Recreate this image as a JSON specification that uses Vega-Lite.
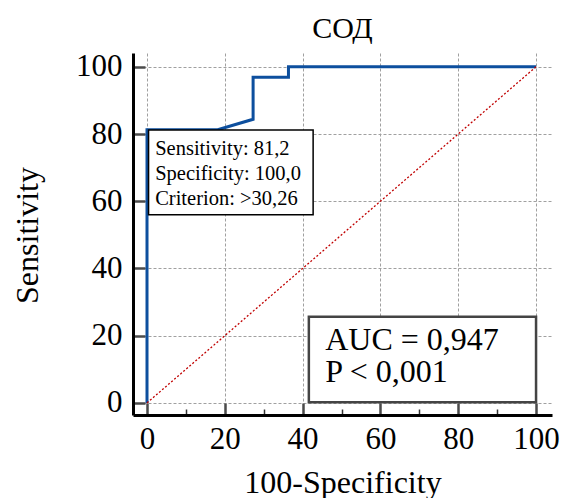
{
  "$schema": "https://vega.github.io/schema/vega-lite/v6.json",
  "autosize": "none",
  "width": 419,
  "height": 362,
  "padding": {"left": 133, "top": 53, "right": 11, "bottom": 83},
  "background": "white",
  "title": {"text": "СОД", "font": "Liberation Serif", "fontSize": 30, "fontWeight": "normal", "color": "black", "baseline": "alphabetic", "offset": 15, "dy": 32, "anchor": "middle", "frame": "group"},
  "config": {"view": {"stroke": null}},
  "layer": [
    {
      "data": {"values": [
        {"i": 0, "fpr": 0, "tpr": 0},
        {"i": 1, "fpr": 0, "tpr": 81.25},
        {"i": 2, "fpr": 18.18, "tpr": 81.25},
        {"i": 3, "fpr": 27.27, "tpr": 84.375},
        {"i": 4, "fpr": 27.27, "tpr": 96.875},
        {"i": 5, "fpr": 36.36, "tpr": 96.875},
        {"i": 6, "fpr": 36.36, "tpr": 100},
        {"i": 7, "fpr": 100, "tpr": 100}
      ]},
      "mark": {"type": "line", "color": "#0d4f9e", "strokeWidth": 3, "clip": false},
      "encoding": {
        "x": {"field": "fpr", "type": "quantitative",
          "scale": {"domain": [-3.6, 104.1], "nice": false, "zero": false},
          "axis": {
            "title": "100-Specificity",
            "values": [0,5,10,15,20,25,30,35,40,45,50,55,60,65,70,75,80,85,90,95,100],
            "labelExpr": "datum.value % 20 === 0 ? datum.label : ''",
            "labelOverlap": false, "labelFlush": false,
            "labelFont": "Liberation Serif", "labelFontSize": 31, "labelColor": "black",
            "labelBaseline": "alphabetic", "labelPadding": 45,
            "domainColor": "black", "domainWidth": 3,
            "tickSize": {"condition": {"test": "datum.value % 20 === 0", "value": -12}, "value": -6},
            "tickWidth": {"condition": {"test": "datum.value % 20 === 0", "value": 2.5}, "value": 1.5},
            "tickColor": {"condition": {"test": "datum.value % 20 === 0", "value": "#4a4a4a"}, "value": "#333333"},
            "grid": true,
            "gridOpacity": {"condition": {"test": "datum.value % 20 === 0", "value": 1}, "value": 0},
            "gridColor": "#a0a0a0", "gridDash": [3, 2], "gridWidth": 1,
            "titleFont": "Liberation Serif", "titleFontSize": 32, "titleFontWeight": "normal", "titleColor": "black",
            "titleBaseline": "alphabetic", "titleY": 77
          }},
        "y": {"field": "tpr", "type": "quantitative",
          "scale": {"domain": [-3.6, 104.1], "nice": false, "zero": false},
          "axis": {
            "title": "Sensitivity",
            "values": [0,5,10,15,20,25,30,35,40,45,50,55,60,65,70,75,80,85,90,95,100],
            "labelExpr": "datum.value % 20 === 0 ? datum.label : ''",
            "labelOverlap": false, "labelFlush": false,
            "labelFont": "Liberation Serif", "labelFontSize": 31, "labelColor": "black",
            "labelPadding": 23,
            "domainColor": "black", "domainWidth": 3,
            "tickSize": {"condition": {"test": "datum.value % 20 === 0", "value": -12}, "value": -7},
            "tickWidth": {"condition": {"test": "datum.value % 20 === 0", "value": 2.5}, "value": 1.5},
            "tickColor": {"condition": {"test": "datum.value % 20 === 0", "value": "#4a4a4a"}, "value": "#333333"},
            "grid": true,
            "gridOpacity": {"condition": {"test": "datum.value % 20 === 0", "value": 1}, "value": 0},
            "gridColor": "#a0a0a0", "gridDash": [3, 2], "gridWidth": 1,
            "titleFont": "Liberation Serif", "titleFontSize": 32, "titleFontWeight": "normal", "titleColor": "black",
            "titleBaseline": "alphabetic", "titleX": -96, "titleY": 182, "titleAngle": -90
          }},
        "order": {"field": "i", "type": "quantitative"}
      }
    },
    {
      "data": {"values": [{"from": 0, "to": 100}]},
      "mark": {"type": "rule", "color": "#c00000", "strokeWidth": 1.3, "strokeDash": [2, 2]},
      "encoding": {
        "x": {"field": "from", "type": "quantitative"},
        "y": {"field": "from", "type": "quantitative"},
        "x2": {"field": "to"},
        "y2": {"field": "to"}
      }
    },
    {
      "data": {"values": [{"box": "criterion"}]},
      "mark": {"type": "rect", "fill": "white", "stroke": "black", "strokeWidth": 1.5},
      "encoding": {
        "x": {"datum": 0.4, "type": "quantitative"},
        "x2": {"datum": 42.7},
        "y": {"datum": 81.2, "type": "quantitative"},
        "y2": {"datum": 56}
      }
    },
    {
      "data": {"values": [{"label": ["Sensitivity: 81,2", "Specificity: 100,0", "Criterion: >30,26"]}]},
      "mark": {"type": "text", "font": "Liberation Serif", "fontSize": 20.5, "color": "black", "align": "left", "baseline": "alphabetic", "lineHeight": 25},
      "encoding": {
        "x": {"datum": 2.1, "type": "quantitative"},
        "y": {"datum": 73.8, "type": "quantitative"},
        "text": {"field": "label"}
      }
    },
    {
      "data": {"values": [{"box": "auc"}]},
      "mark": {"type": "rect", "fill": "white", "stroke": "#444444", "strokeWidth": 2.5},
      "encoding": {
        "x": {"datum": 41.6, "type": "quantitative"},
        "x2": {"datum": 100},
        "y": {"datum": 25.6, "type": "quantitative"},
        "y2": {"datum": 0.2}
      }
    },
    {
      "data": {"values": [{"label": ["AUC = 0,947", "P < 0,001"]}]},
      "mark": {"type": "text", "font": "Liberation Serif", "fontSize": 32, "color": "black", "align": "left", "baseline": "alphabetic", "lineHeight": 32},
      "encoding": {
        "x": {"datum": 45.8, "type": "quantitative"},
        "y": {"datum": 15.8, "type": "quantitative"},
        "text": {"field": "label"}
      }
    }
  ]
}
